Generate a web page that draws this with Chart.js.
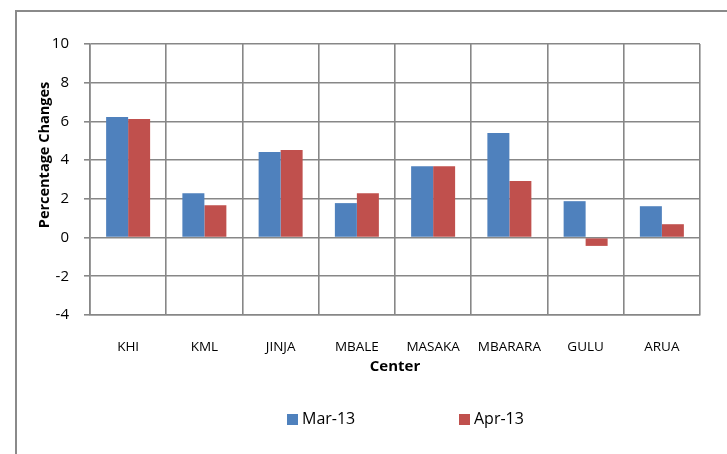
<!DOCTYPE html>
<html>
<head>
<meta charset="utf-8">
<script src="https://cdn.jsdelivr.net/npm/chart.js@4/dist/chart.umd.min.js"></script>
<style>
  html, body { margin: 0; padding: 0; background: #fff; overflow: hidden; }
  #wrap { position: relative; width: 727px; height: 454px; }
</style>
</head>
<body>
<div id="wrap"><canvas id="c" width="727" height="454"></canvas></div>
<script>
const categories = ['KHI', 'KML', 'JINJA', 'MBALE', 'MASAKA', 'MBARARA', 'GULU', 'ARUA'];
const seriesNames = ['Mar-13', 'Apr-13'];
const mar13 = [6.23, 2.29, 4.42, 1.78, 3.69, 5.40, 1.88, 1.62];
const apr13 = [6.13, 1.67, 4.52, 2.29, 3.69, 2.92, -0.43, 0.69];
const yTicks = [-4, -2, 0, 2, 4, 6, 8, 10];
const xTitle = 'Center';
const yTitle = 'Percentage Changes';

const FONT = "'Open Sans', 'Liberation Sans', sans-serif";
const GRID = '#878787';

const decor = {
  id: 'decor',
  beforeDraw(chart) {
    const ctx = chart.ctx;
    ctx.save();
    ctx.strokeStyle = '#8a8a8a';
    ctx.lineWidth = 2;
    ctx.strokeRect(16, 11, 900, 900);
    ctx.restore();
  },
  afterDraw(chart) {
    const ctx = chart.ctx;
    const ca = chart.chartArea;
    ctx.save();
    ctx.fillStyle = '#000';
    ctx.font = 'bold 14.5px ' + FONT;
    ctx.textAlign = 'center';
    ctx.textBaseline = 'middle';
    ctx.translate(ca.left - 45, ca.top + 111);
    ctx.rotate(-Math.PI / 2);
    ctx.fillText(yTitle, 0, 0);
    ctx.restore();
    ctx.save();
    const offsets = [197, 369];
    chart.data.datasets.forEach((ds, i) => {
      const bx = ca.left + offsets[i];
      const by = ca.bottom + 99;
      ctx.fillStyle = ds.backgroundColor;
      ctx.fillRect(bx, by, 11, 11);
      ctx.fillStyle = '#000';
      ctx.font = '16px ' + FONT;
      ctx.textAlign = 'left';
      ctx.textBaseline = 'middle';
      ctx.fillText(ds.label, bx + 15, by + 5.5);
    });
    ctx.restore();
  }
};

new Chart(document.getElementById('c'), {
  type: 'bar',
  data: {
    labels: categories,
    datasets: [
      { label: seriesNames[0], data: mar13, backgroundColor: '#4F81BD' },
      { label: seriesNames[1], data: apr13, backgroundColor: '#C0504D' }
    ]
  },
  options: {
    responsive: false,
    animation: false,
    devicePixelRatio: 1,
    layout: { padding: { left: 15, right: 27, top: 44, bottom: 74 } },
    datasets: { bar: { barPercentage: 1, categoryPercentage: 0.577 } },
    plugins: {
      legend: { display: false },
      tooltip: { enabled: false },
      title: { display: false }
    },
    scales: {
      x: {
        grid: { color: GRID, lineWidth: 1.6, drawTicks: false, offset: true },
        border: { color: GRID, width: 1.6 },
        ticks: { color: '#000', font: { family: FONT, size: 13.5 }, padding: 24, maxRotation: 0, autoSkip: false },
        title: { display: true, text: xTitle, color: '#000', font: { family: FONT, size: 15, weight: 'bold' }, padding: { top: 0, bottom: 4 } },
        afterFit(scale) { scale.height = 65; }
      },
      y: {
        min: -4, max: 10,
        afterBuildTicks(scale) { scale.ticks = yTicks.map(v => ({ value: v })); },
        grid: { color: GRID, lineWidth: 1.6, tickLength: 6, drawTicks: true },
        border: { color: GRID, width: 1.6 },
        ticks: { color: '#000', font: { family: FONT, size: 15 }, padding: 15 },
        afterFit(scale) { scale.width = 75; }
      }
    }
  },
  plugins: [decor]
});
</script>
</body>
</html>
